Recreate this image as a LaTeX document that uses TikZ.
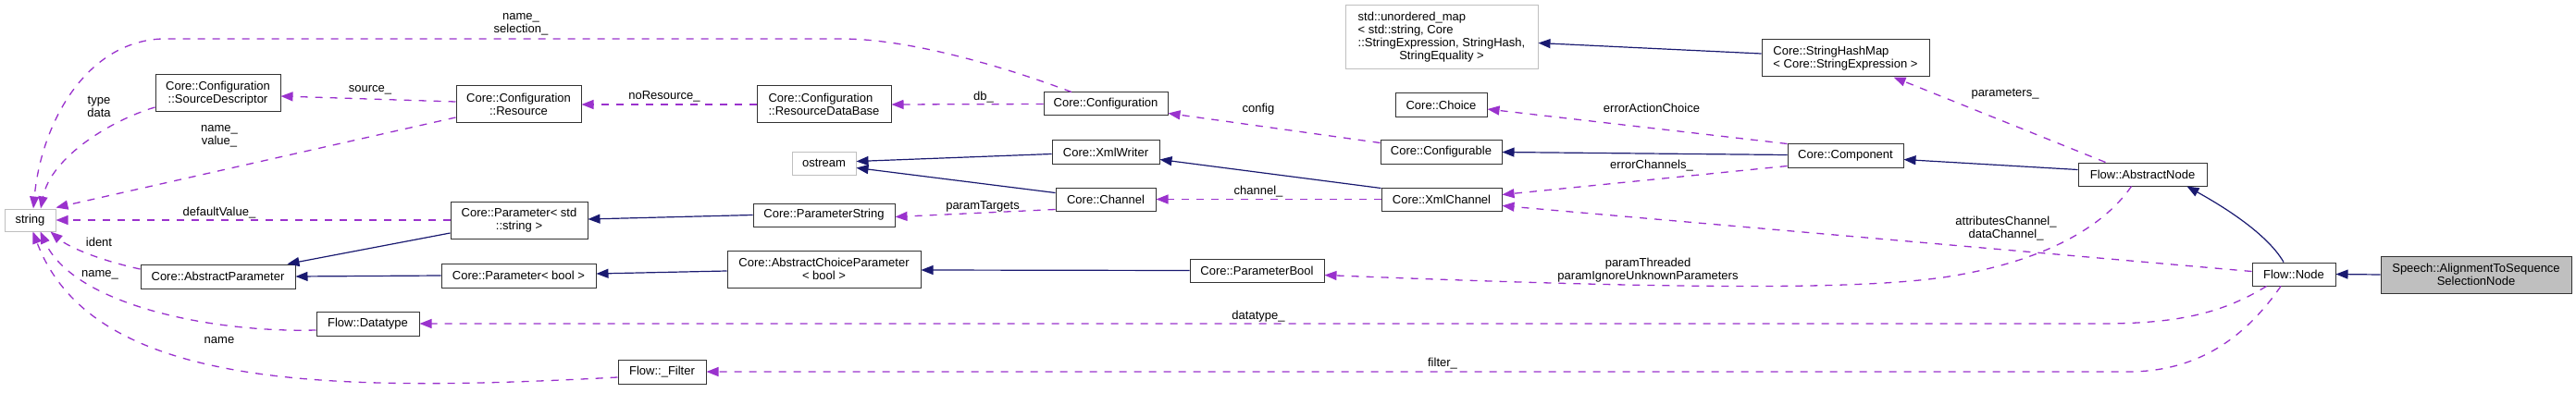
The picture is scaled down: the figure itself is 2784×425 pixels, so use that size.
\documentclass[tikz,border=0pt]{standalone}
\usepackage{fontspec}
\setmainfont{Liberation Sans}
\usetikzlibrary{arrows.meta,calc}
\definecolor{inhc}{HTML}{191970}
\definecolor{usec}{HTML}{9A32CD}
\definecolor{grayb}{HTML}{BFBFBF}
\begin{document}
\begin{tikzpicture}[x=1pt,y=-1pt,font=\fontsize{13}{14}\selectfont,
  box/.style={draw=black!80,line width=1pt,fill=white,inner sep=0pt,align=center},
  gbox/.style={box,draw=grayb},
  inh/.style={draw=inhc,line width=1.2pt,-{Triangle[length=13pt,width=10pt]}},
  use/.style={draw=usec,line width=1.3pt,dash pattern=on 8pt off 8pt,-{Triangle[length=13pt,width=10pt]}},
  lab/.style={inner sep=0pt,align=center}]
\useasboundingbox (0,0) rectangle (2784,425);
% nodes
\node[gbox,minimum width=55pt,minimum height=24pt] (str) at (32.5,238) {string};
\node[box,minimum width=135pt,minimum height=40pt] (sd) at (235.5,101) {Core::Configuration\\::SourceDescriptor};
\node[box,minimum width=167pt,minimum height=26pt] (ap) at (235.5,299) {Core::AbstractParameter};
\node[box,minimum width=135pt,minimum height=40pt] (res) at (560.5,113) {Core::Configuration\\::Resource};
\node[box,minimum width=148pt,minimum height=40pt] (pstr) at (561,238) {Core::Parameter< std\\::string >};
\node[box,minimum width=167pt,minimum height=26pt] (pbool) at (560.5,298) {Core::Parameter< bool >};
\node[box,minimum width=111pt,minimum height=26pt] (dt) at (397.5,350) {Flow::Datatype};
\node[box,minimum width=95pt,minimum height=26pt] (filt) at (715.5,402) {Flow::\_Filter};
\node[box,align=left,minimum width=145pt,minimum height=40pt] (rdb) at (890.5,113) {Core::Configuration\\::ResourceDataBase};
\node[gbox,minimum width=69pt,minimum height=25pt] (ost) at (890.5,176.5) {ostream};
\node[box,minimum width=153pt,minimum height=25pt] (ps) at (890.5,232.5) {Core::ParameterString};
\node[box,minimum width=209pt,minimum height=40pt] (acp) at (890.5,291) {Core::AbstractChoiceParameter\\< bool >};
\node[box,minimum width=134pt,minimum height=25pt] (conf) at (1195,112.5) {Core::Configuration};
\node[box,minimum width=116pt,minimum height=25pt] (xw) at (1195,164.5) {Core::XmlWriter};
\node[box,minimum width=108pt,minimum height=25pt] (ch) at (1195,215.5) {Core::Channel};
\node[box,minimum width=145pt,minimum height=25pt] (pb) at (1358.5,292.5) {Core::ParameterBool};
\node[gbox,minimum width=208pt,minimum height=69pt] (um) at (1558,40.5) {\begin{tabular}{@{}l@{}}std::unordered\_map\\< std::string, Core\\::StringExpression, StringHash,\\\multicolumn{1}{@{}c@{}}{StringEquality >}\end{tabular}};
\node[box,minimum width=99pt,minimum height=26pt] (choice) at (1557.5,114) {Core::Choice};
\node[box,minimum width=131pt,minimum height=25pt] (cfg) at (1557.5,164.5) {Core::Configurable};
\node[box,minimum width=130pt,minimum height=25pt] (xc) at (1558,215.5) {Core::XmlChannel};
\node[box,align=left,minimum width=181pt,minimum height=40pt] (shm) at (1994.5,63) {Core::StringHashMap\\< Core::StringExpression >};
\node[box,minimum width=125pt,minimum height=25pt] (comp) at (1994.5,168.5) {Core::Component};
\node[box,minimum width=139pt,minimum height=25pt] (an) at (2315.5,188.5) {Flow::AbstractNode};
\node[box,minimum width=90pt,minimum height=25pt] (fn) at (2479,296.5) {Flow::Node};
\node[box,fill=grayb,minimum width=206pt,minimum height=40pt] (sp) at (2676,297) {Speech::AlignmentToSequence\\SelectionNode};
% inheritance
\draw[inh] ($(xw.west)+(0,2)$) -- ($(ost.east)+(0,-2)$);
\draw[inh] ($(ch.west)+(0,-7)$) -- ($(ost.east)+(0,5)$);
\draw[inh] ($(pstr.west)+(0,14)$) -- ($(ap.north east)+(-9,0)$);
\draw[inh] (pbool.west) -- (ap.east);
\draw[inh] (ps.west) -- ($(pstr.east)+(0,-1)$);
\draw[inh] ($(acp.west)+(0,2)$) -- ($(pbool.east)+(0,-2)$);
\draw[inh] (pb.west) -- ($(acp.east)+(0,1)$);
\draw[inh] ($(xc.north west)+(0,1)$) -- ($(xw.east)+(0,8)$);
\draw[inh] ($(comp.west)+(0,-1)$) -- (cfg.east);
\draw[inh] ($(shm.west)+(0,-5)$) -- ($(um.east)+(0,6)$);
\draw[inh] ($(an.west)+(0,-5)$) -- ($(comp.east)+(0,4)$);
\draw[inh] ($(fn.north)+(-11,0)$) .. controls +(-20,-35) and +(25,14) .. ($(an.south)+(48,0)$);
\draw[inh] (sp.west) -- (fn.east);
% usage
\draw[use] ($(conf.north)+(-37,0)$) .. controls (1080,70) and (980,42) .. (910,42) -- (175,42) .. controls (95,45) and (45,130) .. ($(str.north)+(3.5,0)$);
\draw[use] ($(sd.west)+(0,15)$) .. controls (120,130) and (55,170) .. ($(str.north)+(11.5,0)$);
\draw[use] ($(res.west)+(0,-3)$) -- ($(sd.east)+(0,3)$);
\draw[use] ($(res.west)+(0,14)$) -- ($(str.north east)+(0,-1)$);
\draw[use] (rdb.west) -- (res.east);
\draw[use] (conf.west) -- (rdb.east);
\draw[use] ($(cfg.north west)+(0,3)$) -- ($(conf.east)+(0,10)$);
\draw[use] (comp.north west) -- ($(choice.east)+(0,4)$);
\draw[use] ($(comp.west)+(0,11)$) -- ($(xc.east)+(0,-5)$);
\draw[use] (xc.west) -- (ch.east);
\draw[use] ($(ch.south west)+(0,-2)$) -- ($(ps.east)+(0,2)$);
\draw[use] ($(fn.west)+(0,-3)$) -- ($(xc.east)+(0,7)$);
\draw[use] ($(an.north)+(-40,0)$) -- ($(shm.south)+(52,0)$);
\draw[use] ($(an.south)+(-12,0)$) .. controls (2270,250) and (2200,285) .. (2100,300) .. controls (2000,314) and (1800,312) .. ($(pb.east)+(0,5)$);
\draw[use] ($(fn.south west)+(16,0)$) .. controls (2400,340) and (2350,350) .. (2270,350) -- (dt.east);
\draw[use] ($(dt.west)+(0,7)$) .. controls (230,360) and (80,330) .. ($(str.south)+(11,0)$);
\draw[use] ($(ap.west)+(0,-8)$) .. controls (110,282) and (75,268) .. ($(str.south east)+(-6,0)$);
\draw[use] (pstr.west) -- (str.east);
\draw[use] ($(fn.south)+(-14,0)$) .. controls (2430,360) and (2380,402) .. (2300,402) -- (filt.east);
\draw[use] ($(filt.west)+(0,6)$) .. controls (350,425) and (100,420) .. ($(str.south)+(3,0)$);
% labels
\node[lab] (l1) at (563,26) {name\_\\selection\_};
\node[lab] (l2) at (107,115) {type\\data};
\node[lab] (l3) at (400,97) {source\_};
\node[lab] (l4) at (237,147) {name\_\\value\_};
\node[lab] (l5) at (718,104) {noResource\_};
\node[lab] (l6) at (1063,105) {db\_};
\node[lab] (l7) at (1360,118) {config};
\node[lab] (l8) at (1785,117) {errorActionChoice};
\node[lab] (l9) at (1785,179) {errorChannels\_};
\node[lab] (l10) at (1360,207) {channel\_};
\node[lab] (l11) at (1062,223) {paramTargets};
\node[lab] (l12) at (2168,247) {attributesChannel\_\\dataChannel\_};
\node[lab] (l13) at (2167,102) {parameters\_};
\node[lab] (l14) at (1781,292) {paramThreaded\\paramIgnoreUnknownParameters};
\node[lab] (l15) at (1360,342) {datatype\_};
\node[lab] (l16) at (108,297) {name\_};
\node[lab] (l17) at (107,262) {ident};
\node[lab] (l18) at (237,230) {defaultValue\_};
\node[lab] (l19) at (1559,393) {filter\_};
\node[lab] (l20) at (237,368) {name};
\end{tikzpicture}
\end{document}
